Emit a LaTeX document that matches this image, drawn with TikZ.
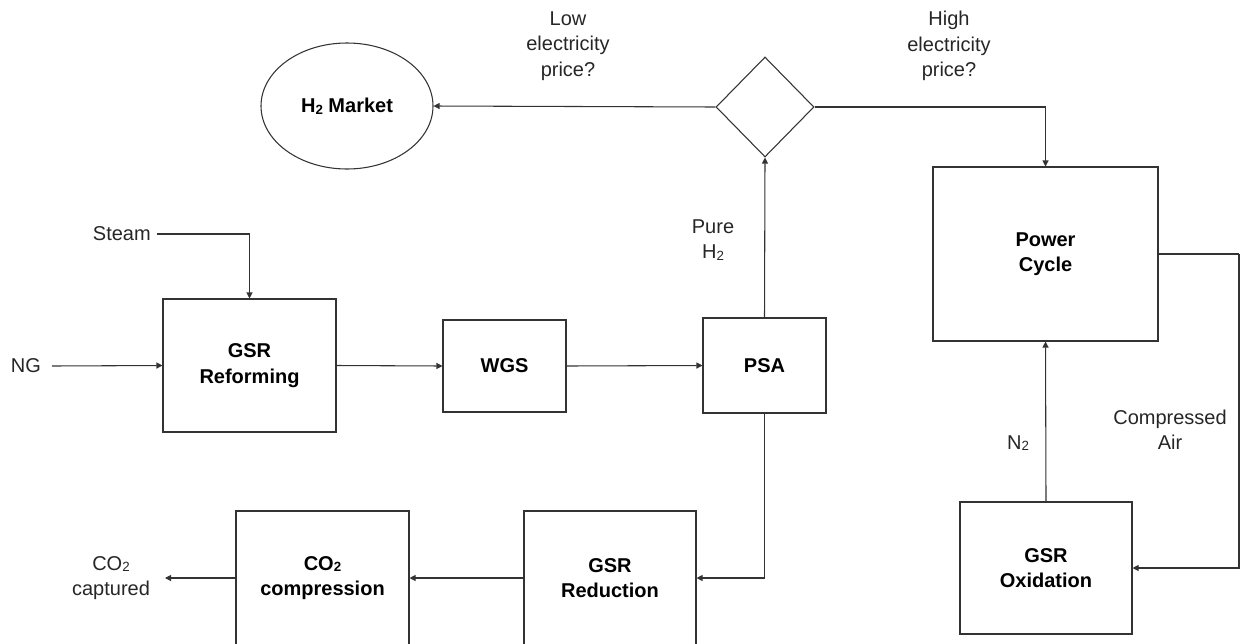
\documentclass[tikz,border=0pt]{standalone}
\usepackage{fontspec}
\setmainfont{Liberation Sans}
\usetikzlibrary{shapes.geometric,arrows.meta}
\newcommand\subtwo{\raisebox{-0.15ex}{\fontsize{10}{10}\selectfont 2}}
\begin{document}
\begin{tikzpicture}[x=0.75pt,y=-0.75pt,
  every node/.style={font=\fontsize{15}{19}\selectfont, text=black!85},
  box/.style={draw=black!80, line width=0.8pt, rectangle, inner sep=0pt, align=center, font=\fontsize{15}{19}\selectfont\bfseries, text=black},
  lbl/.style={align=center, inner sep=0pt},
  conn/.style={draw=black!80, line width=0.8pt},
  arr/.style={conn, -{Triangle[length=4.5pt,width=4.5pt]}}]
\useasboundingbox (0,0) rectangle (1241,643);
% nodes
\node[draw=black!80, line width=0.8pt, ellipse, minimum width=129pt, minimum height=94.5pt, inner sep=0pt, font=\fontsize{15}{19}\selectfont\bfseries, text=black] (mkt) at (347,106) {H\subtwo\ Market};
\node[draw=black!80, line width=0.8pt, diamond, minimum width=73.5pt, minimum height=75pt, inner sep=0pt] (dia) at (765,107) {};
\node[box, minimum width=129.75pt, minimum height=99.75pt] (reform) at (249.5,365.5) {GSR\\Reforming};
\node[box, minimum width=92.25pt, minimum height=69pt] (wgs) at (504.5,366) {WGS};
\node[box, minimum width=92.25pt, minimum height=71.25pt] (psa) at (764.5,365.5) {PSA};
\node[box, minimum width=168.75pt, minimum height=130.5pt] (power) at (1045.5,254) {Power\\Cycle};
\node[box, minimum width=129pt, minimum height=99pt] (oxid) at (1046,568) {GSR\\Oxidation};
\node[box, minimum width=129pt, minimum height=100.5pt] (reduct) at (610,578) {GSR\\Reduction};
\node[box, minimum width=129.75pt, minimum height=100.5pt] (comp) at (322.5,578) {CO\subtwo\\compression};
% labels
\node[lbl] (low) at (568,46) {Low\\electricity\\price?};
\node[lbl] (high) at (949,46) {High\\electricity\\price?};
\node[lbl] (pure) at (713,240) {Pure\\H\subtwo};
\node[lbl] (ntwo) at (1018,443) {N\subtwo};
\node[lbl] (air) at (1170,430) {Compressed\\Air};
\node[lbl, anchor=east] (steam) at (151,234) {Steam};
\node[lbl] (ng) at (26,366) {NG};
\node[lbl] (captured) at (111,578) {CO\subtwo\\captured};
% coordinates
\coordinate (steamout) at (157,234);
\coordinate (ngout) at (52,366);
\coordinate (co2end) at (165,578);
\coordinate (airturn) at (1239,254);
% connectors
\draw[arr] (dia.west) -- (mkt.east);
\draw[arr] (dia.east) -| (power.north);
\draw[arr] (psa.north) -- (dia.south);
\draw[arr] (steamout) -| (reform.north);
\draw[arr] (ngout) -- (reform.west);
\draw[arr] (reform.east) -- (wgs.west);
\draw[arr] (wgs.east) -- (psa.west);
\draw[arr] (psa.south) |- (reduct.east);
\draw[arr] (reduct.west) -- (comp.east);
\draw[arr] (comp.west) -- (co2end);
\draw[conn] (power.east) -- (airturn);
\draw[arr] (airturn) |- (oxid.east);
\draw[arr] (oxid.north) -- (power.south);
\end{tikzpicture}
\end{document}
